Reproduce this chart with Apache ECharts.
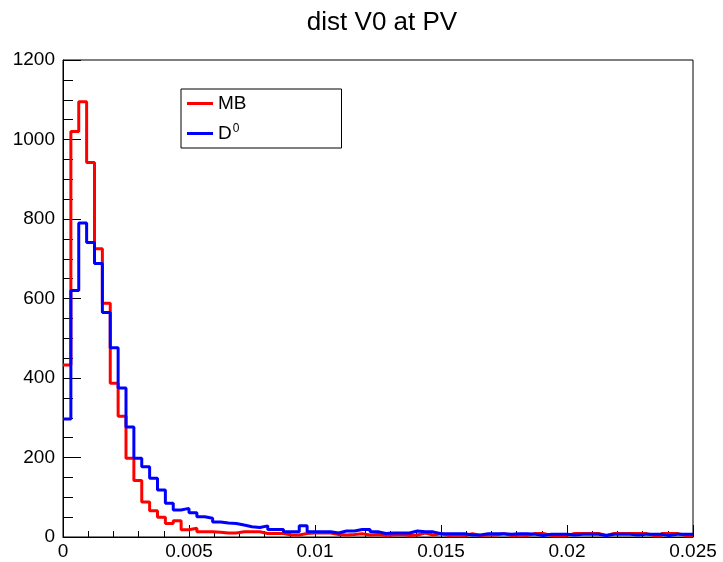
<!DOCTYPE html>
<html>
<head>
<meta charset="utf-8">
<script src="https://cdn.jsdelivr.net/npm/echarts@6/dist/echarts.min.js"></script>
<style>
html,body{margin:0;padding:0;background:#fff;}
#c{width:723px;height:562px;}
</style>
</head>
<body>
<div id="c"></div>
<script>
// Histogram: 80 bins from 0 to 0.025
const BIN_COUNT = 80;
const X_MIN = 0, X_MAX = 0.025;
const xTickLabels = ['0', '0.005', '0.01', '0.015', '0.02', '0.025'];
const yTickLabels = ['0', '200', '400', '600', '800', '1000', '1200'];
const seriesNames = ['MB', 'D0'];

const mbCounts = [
  433,1020,1095,942,725,588,387,304,198,142,
  88,66,50,34,41,18,22,13,13,12,
  10,10,13,13,13,9,9,9,5,5,
  9,10,10,10,6,5,6,8,5,6,
  4,5,6,4,5,10,5,8,4,5,
  4,8,4,5,5,8,4,5,4,9,
  9,4,3,4,9,9,9,9,4,9,
  9,9,9,9,4,3,9,9,4,3
];
const d0Counts = [
  297,620,790,741,688,565,476,375,277,198,
  177,148,118,85,68,72,61,51,47,38,
  35,34,30,26,24,28,19,19,13,13,
  28,13,13,13,10,15,15,19,19,13,
  9,10,10,10,15,13,13,8,8,8,
  8,5,5,8,8,8,7,8,8,7,
  4,7,7,7,5,7,7,7,4,7,
  7,7,5,7,7,7,4,7,7,7
];

const binW = (X_MAX - X_MIN) / BIN_COUNT;
function toSteps(counts) {
  const d = counts.map((v, i) => [X_MIN + i * binW, v]);
  d.push([X_MIN + counts.length * binW, counts[counts.length - 1]]);
  return d;
}

const FONT = '"Liberation Sans", Arial, Helvetica, sans-serif';
const chart = echarts.init(document.getElementById('c'), null, {renderer: 'canvas'});
chart.setOption({
  animation: false,
  backgroundColor: '#fff',
  title: {
    text: 'dist V0 at PV',
    left: 377, top: 5, textAlign: 'center',
    textStyle: {fontFamily: FONT, fontSize: 26, fontWeight: 'normal', color: '#000'}
  },
  legend: {
    orient: 'vertical',
    left: 181, top: 89,
    padding: [5, 95, 4, 6],
    icon: 'rect',
    itemWidth: 26, itemHeight: 3, itemGap: 10,
    borderColor: '#000', borderWidth: 1,
    backgroundColor: '#fff',
    data: seriesNames,
    formatter: function (name) {
      return name === 'D0' ? '{m|D}{s|0}' : '{m|' + name + '}';
    },
    textStyle: {
      fontFamily: FONT, color: '#000', fontSize: 19,
      rich: {
        m: {fontFamily: FONT, fontSize: 19, color: '#000', lineHeight: 21},
        s: {fontFamily: FONT, fontSize: 12, color: '#000', verticalAlign: 'top', lineHeight: 21, padding: [0, 0, 9, 1]}
      }
    }
  },
  grid: {
    left: 63, right: 30, top: 60, bottom: 25,
    show: true, borderColor: '#000', borderWidth: 1, backgroundColor: '#fff'
  },
  xAxis: {
    type: 'value', min: X_MIN, max: X_MAX, interval: 0.005,
    axisLine: {show: true, onZero: false, lineStyle: {color: '#000', width: 1}},
    axisTick: {show: true, inside: true, length: 12, lineStyle: {color: '#000'}},
    minorTick: {show: true, splitNumber: 5, length: 6, lineStyle: {color: '#000'}},
    splitLine: {show: false},
    axisLabel: {
      fontFamily: FONT, fontSize: 19, color: '#000', margin: 5,
      formatter: function (v) {
        const idx = Math.round(v / 0.005);
        return xTickLabels[idx] !== undefined ? xTickLabels[idx] : '';
      }
    }
  },
  yAxis: {
    type: 'value', min: 0, max: 1200, interval: 200,
    axisLine: {show: true, lineStyle: {color: '#000', width: 1}},
    axisTick: {show: true, inside: true, length: 18, lineStyle: {color: '#000'}},
    minorTick: {show: true, splitNumber: 4, length: 10, lineStyle: {color: '#000'}},
    splitLine: {show: false},
    axisLabel: {
      fontFamily: FONT, fontSize: 19, color: '#000', margin: 8,
      formatter: function (v) {
        const idx = Math.round(v / 200);
        return yTickLabels[idx] !== undefined ? yTickLabels[idx] : '';
      }
    }
  },
  series: [
    {
      name: 'MB', type: 'line', step: 'end', symbol: 'none',
      data: toSteps(mbCounts),
      lineStyle: {color: '#ff0000', width: 3},
      itemStyle: {color: '#ff0000'},
      clip: true, z: 2
    },
    {
      name: 'D0', type: 'line', step: 'end', symbol: 'none',
      data: toSteps(d0Counts),
      lineStyle: {color: '#0000ff', width: 3},
      itemStyle: {color: '#0000ff'},
      clip: true, z: 3
    }
  ]
});
</script>
</body>
</html>
